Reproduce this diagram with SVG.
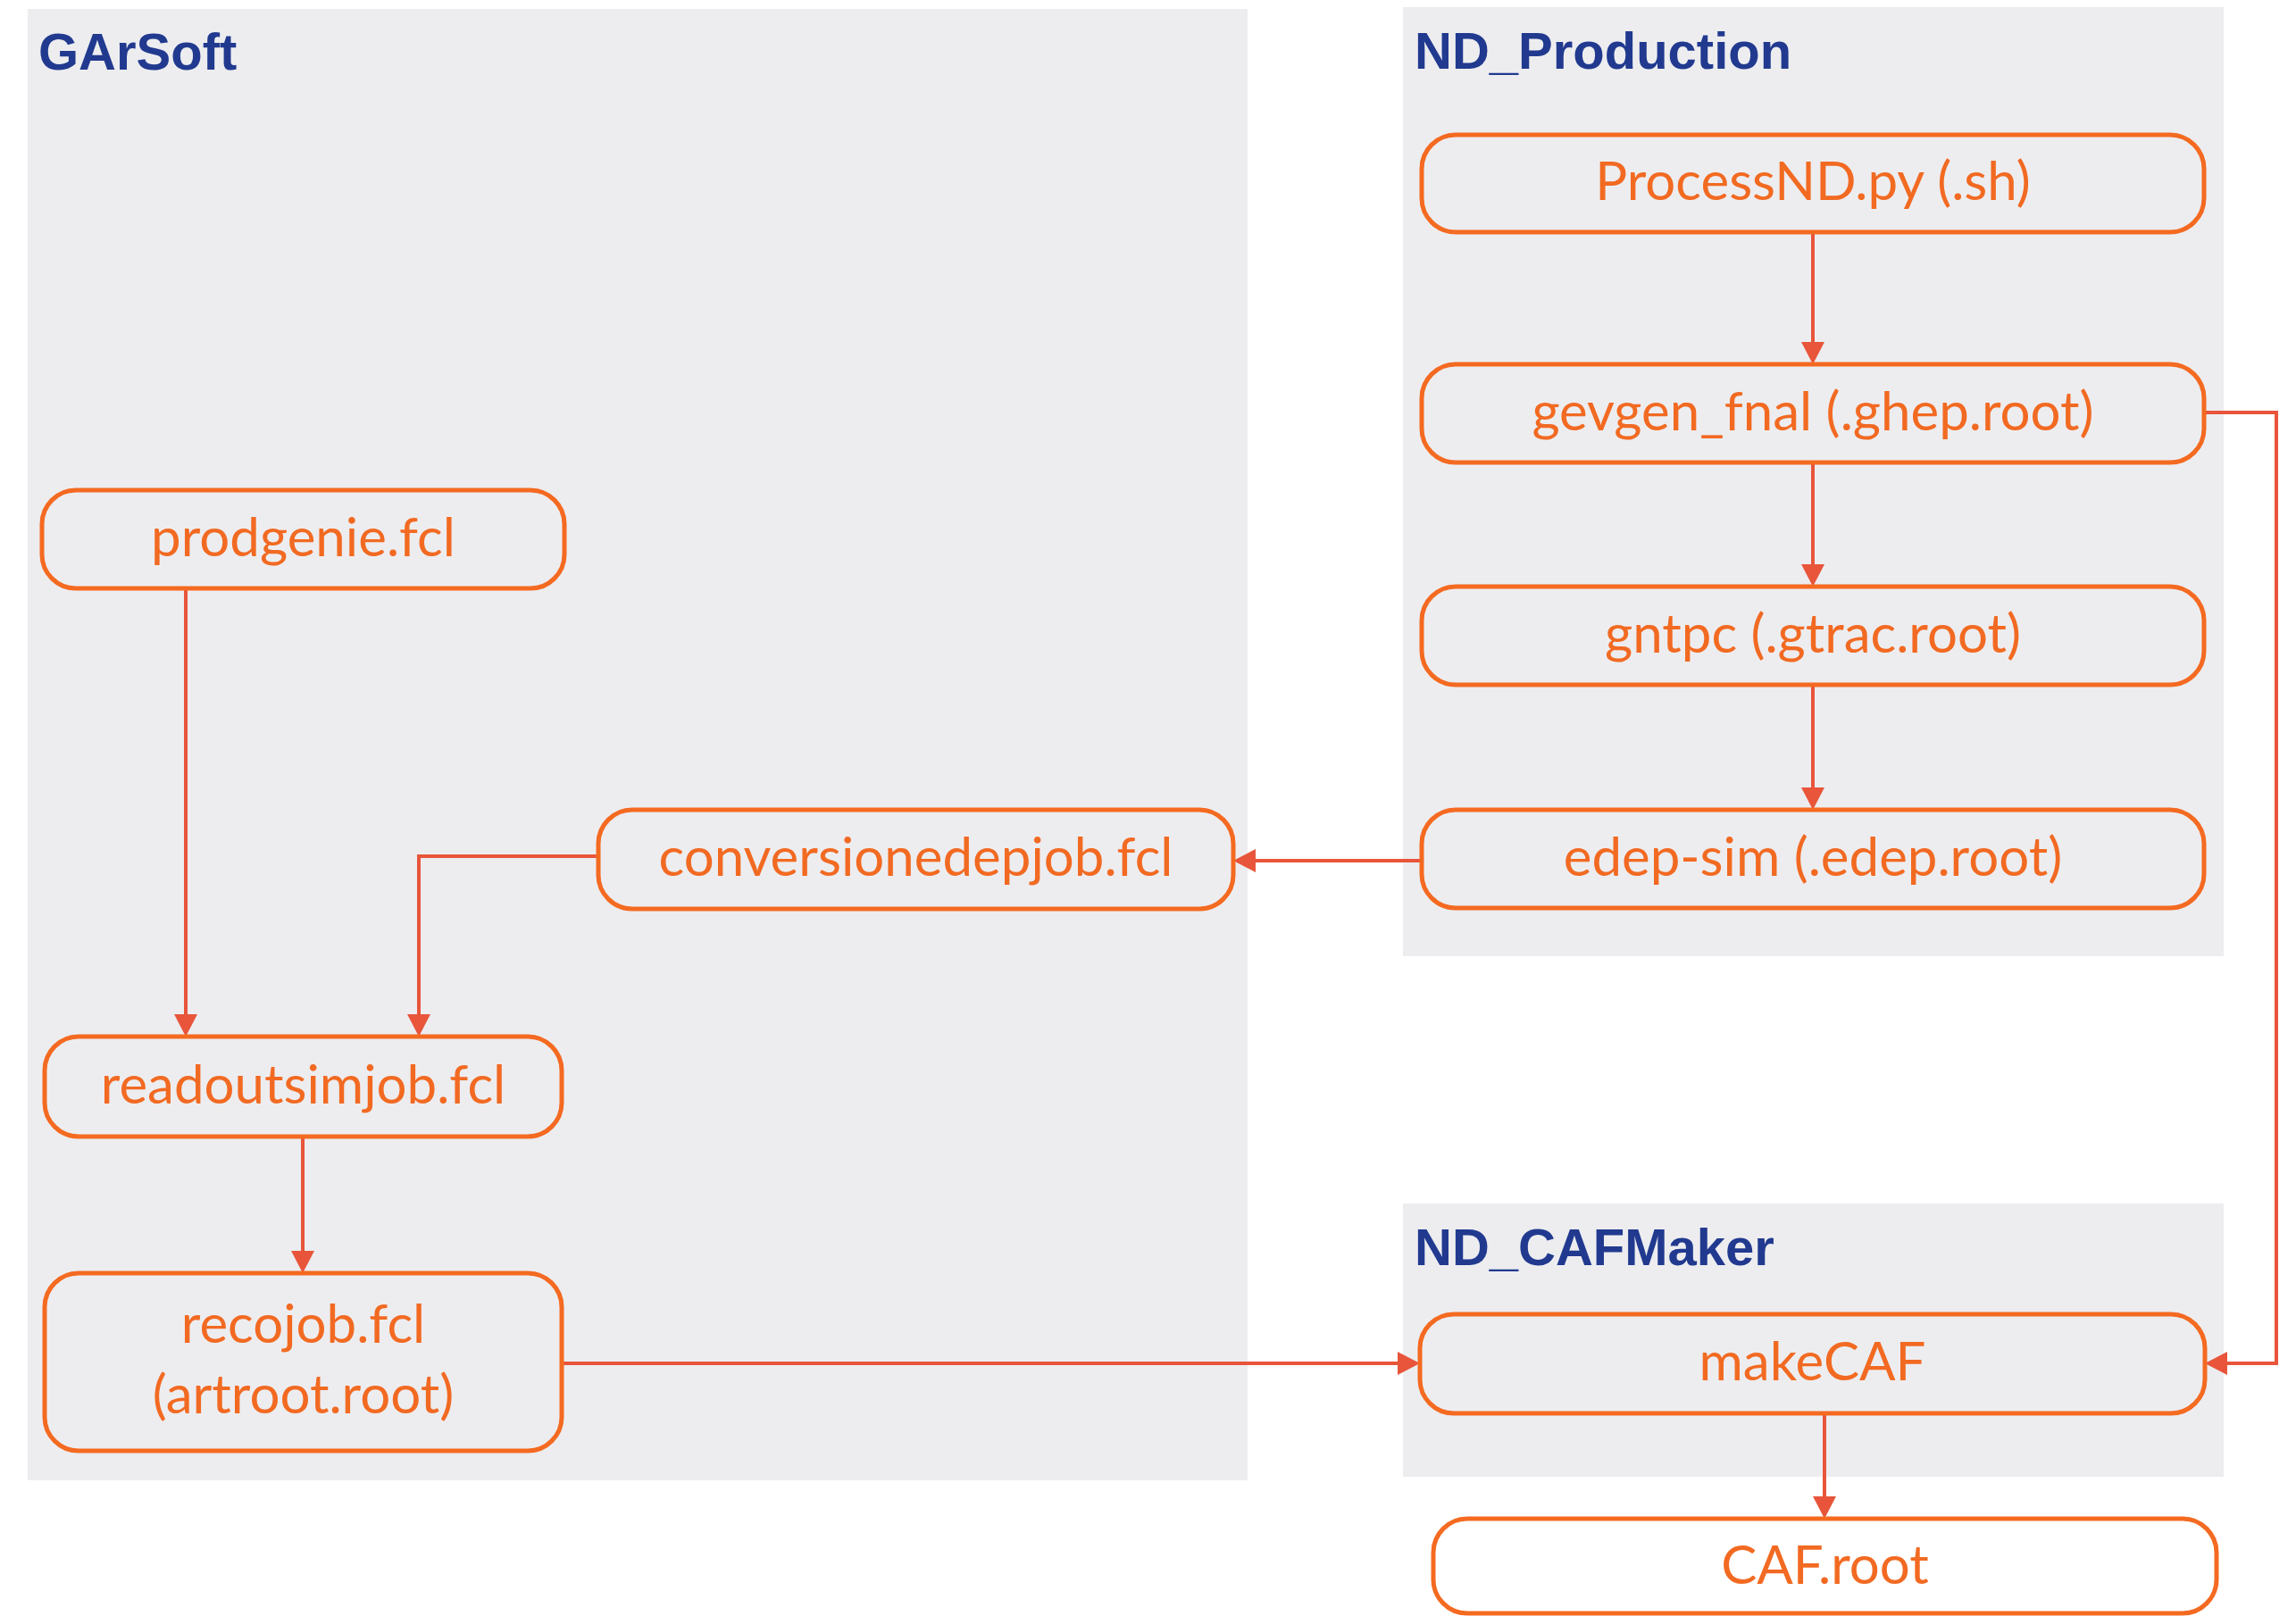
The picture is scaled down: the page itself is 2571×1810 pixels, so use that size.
<svg xmlns="http://www.w3.org/2000/svg" width="2571" height="1810" viewBox="0 0 2571 1810">
<style>
.cluster{fill:#EDEDF0;stroke:none}
.title{font-family:"Liberation Sans",Arial,sans-serif;font-weight:bold;font-size:58px;fill:#213A8F}
.node rect{fill:none;stroke:#F46A21;stroke-width:5}
.node text{font-family:Lato,"Open Sans",sans-serif;font-weight:400;font-size:60px;fill:#F26A22;text-anchor:middle}
.edge{fill:none;stroke:#E8553A;stroke-width:4;marker-end:url(#arr)}
</style>
<defs>
<marker id="arr" viewBox="0 0 25 26" refX="21" refY="13" markerWidth="25" markerHeight="26" orient="auto" markerUnits="userSpaceOnUse">
<path d="M0,0 L25,13 L0,26 z" fill="#E8553A"/>
</marker>
</defs>
<rect width="2571" height="1810" fill="#FFFFFF"/>
<g id="clusters">
<g id="cluster-garsoft"><rect class="cluster" x="31" y="10" width="1366" height="1648"/><text class="title" x="43" y="78">GArSoft</text></g>
<g id="cluster-ndproduction"><rect class="cluster" x="1571" y="8" width="919" height="1063"/><text class="title" x="1584" y="77">ND_Production</text></g>
<g id="cluster-ndcafmaker"><rect class="cluster" x="1571" y="1348" width="919" height="306"/><text class="title" x="1584" y="1417">ND_CAFMaker</text></g>
</g>
<g id="connectors">
<path class="edge" d="M2030 260 V404"/>
<path class="edge" d="M2030 518 V653"/>
<path class="edge" d="M2030 767 V903"/>
<path class="edge" d="M1592 964 H1385"/>
<path class="edge" d="M670 959 H469 V1157"/>
<path class="edge" d="M208 659 V1157"/>
<path class="edge" d="M339 1273 V1422"/>
<path class="edge" d="M629 1527 H1586"/>
<path class="edge" d="M2470 462 H2549 V1527 H2473"/>
<path class="edge" d="M2043 1583 V1697"/>
</g>
<g id="processnd" class="node"><rect x="1592" y="151" width="876" height="109" rx="38"/><text x="2030" y="224">ProcessND.py (.sh)</text></g>
<g id="gevgen" class="node"><rect x="1592" y="408" width="876" height="110" rx="38"/><text x="2030" y="482">gevgen_fnal (.ghep.root)</text></g>
<g id="gntpc" class="node"><rect x="1592" y="657" width="876" height="110" rx="38"/><text x="2030" y="731">gntpc (.gtrac.root)</text></g>
<g id="edepsim" class="node"><rect x="1592" y="907" width="876" height="110" rx="38"/><text x="2030" y="981">edep-sim (.edep.root)</text></g>
<g id="prodgenie" class="node"><rect x="47" y="549" width="585" height="110" rx="38"/><text x="339.5" y="623">prodgenie.fcl</text></g>
<g id="conversionedepjob" class="node"><rect x="670" y="907" width="711" height="111" rx="38"/><text x="1025.5" y="981">conversionedepjob.fcl</text></g>
<g id="readoutsimjob" class="node"><rect x="50" y="1161" width="579" height="112" rx="38"/><text x="339.5" y="1236">readoutsimjob.fcl</text></g>
<g id="recojob" class="node"><rect x="50" y="1426" width="579" height="199" rx="38"/><text x="339.5" y="1504">recojob.fcl</text><text x="339.5" y="1583">(artroot.root)</text></g>
<g id="makecaf" class="node"><rect x="1590" y="1472" width="879" height="111" rx="38"/><text x="2029.5" y="1546">makeCAF</text></g>
<g id="cafroot" class="node"><rect x="1605" y="1701" width="877" height="106" rx="38" style="fill:#FFFFFF"/><text x="2043.5" y="1774">CAF.root</text></g>
</svg>
